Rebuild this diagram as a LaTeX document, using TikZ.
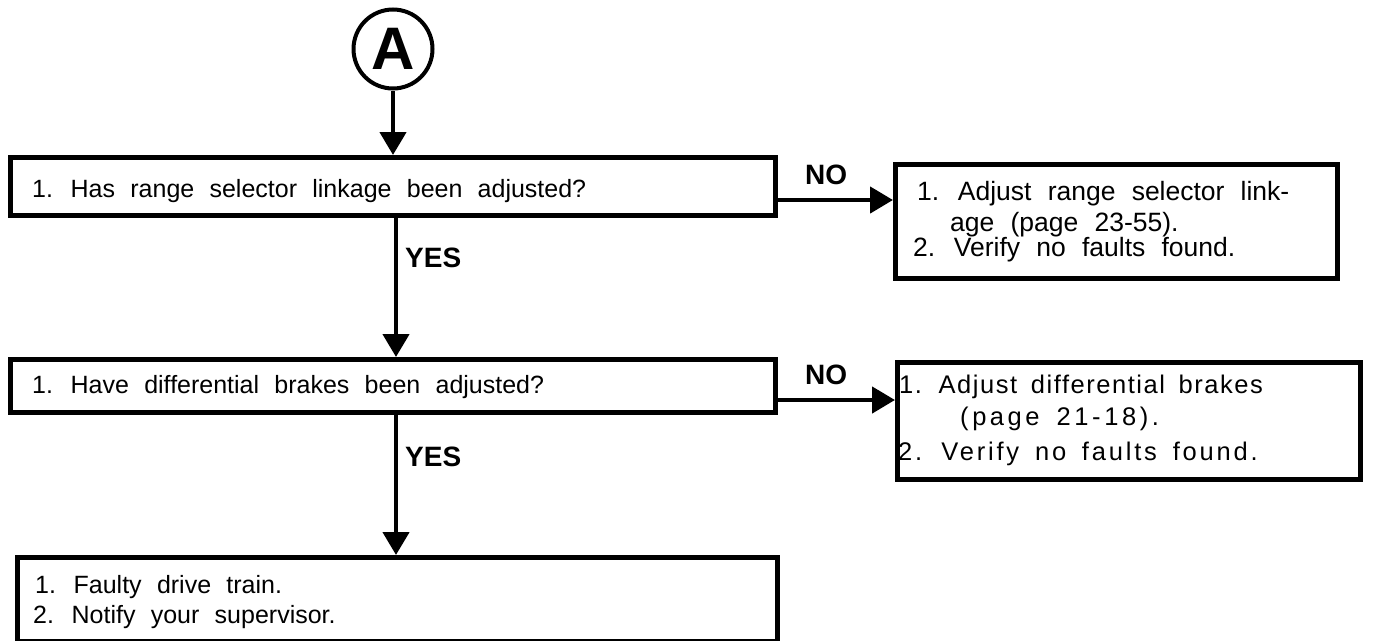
\documentclass[tikz,border=0pt]{standalone}
\usepackage{fontspec}
\usetikzlibrary{arrows.meta}
\setmainfont{Liberation Sans}
\newfontfamily\bodyf{Liberation Sans}[WordSpace=2.2]
\newfontfamily\spacedf{Liberation Sans}[WordSpace=1.6,LetterSpace=6]
\newfontfamily\spacedg{Liberation Sans}[WordSpace=1.6,LetterSpace=14]
\newfontfamily\spacedh{Liberation Sans}[WordSpace=1.6,LetterSpace=11]
\begin{document}
\begin{tikzpicture}[x=1pt,y=-1pt,
  box/.style={draw,line width=4.5pt,rectangle,inner sep=0pt,anchor=north west},
  txt/.style={anchor=base west,inner sep=0pt,font=\bodyf\fontsize{25}{28}\selectfont},
  btxt/.style={anchor=base west,inner sep=0pt,font=\bodyf\fontsize{26.5}{28}\selectfont},
  stxt/.style={anchor=base west,inner sep=0pt,font=\spacedf\fontsize{25.5}{28}\selectfont},
  lab/.style={anchor=base west,inner sep=0pt,font=\bfseries\fontsize{28}{30}\selectfont},
  arr/.style={line width=4.5pt,-{Triangle[length=23pt,width=26pt]}}]
\useasboundingbox (0,0) rectangle (1375,640);
% start circle
\node[circle,draw,line width=4pt,minimum size=79pt,inner sep=0pt] (A) at (393,49)
  {\fontsize{60}{60}\selectfont\bfseries A};
% boxes
\node[box,minimum width=765pt,minimum height=58pt] (b1) at (8,155) {};
\node[box,minimum width=442pt,minimum height=114pt] (b2) at (893,162) {};
\node[box,minimum width=765pt,minimum height=53pt] (b3) at (8,357) {};
\node[box,minimum width=463pt,minimum height=117pt] (b4) at (895,360) {};
\node[box,minimum width=760pt,minimum height=84pt] (b5) at (15,555) {};
% texts
\node[txt] (t1) at (32,197) {1. Has range selector linkage been adjusted?};
\node[btxt] (t2a) at (917,200) {1. Adjust range selector link-};
\node[btxt] (t2b) at (950,231) {age (page 23-55).};
\node[btxt] (t2c) at (913,256) {2. Verify no faults found.};
\node[txt] (t3) at (32,393) {1. Have differential brakes been adjusted?};
\node[stxt] (t4a) at (899,393) {1. Adjust differential brakes};
\node[stxt,font=\spacedg\fontsize{25.5}{28}\selectfont] (t4b) at (960,425) {(page 21-18).};
\node[stxt,font=\spacedh\fontsize{25.5}{28}\selectfont] (t4c) at (898,460) {2. Verify no faults found.};
\node[txt] (t5a) at (35,593) {1. Faulty drive train.};
\node[txt] (t5b) at (33,623) {2. Notify your supervisor.};
% labels
\node[lab] (no1) at (805,184) {NO};
\node[lab] (yes1) at (405,267) {YES};
\node[lab] (no2) at (805,384) {NO};
\node[lab] (yes2) at (405,466) {YES};
% connector helpers
\coordinate (vx) at (396,0);
\coordinate (h1) at (0,200);
\coordinate (h2) at (0,400);
% connectors
\draw[arr] (A.south) -- (A.south |- b1.north);
\draw[arr] (b1.south -| vx) -- (b3.north -| vx);
\draw[arr] (b3.south -| vx) -- (b5.north -| vx);
\draw[arr] (b1.east |- h1) -- (b2.west |- h1);
\draw[arr] (b3.east |- h2) -- (b4.west |- h2);
\end{tikzpicture}
\end{document}
